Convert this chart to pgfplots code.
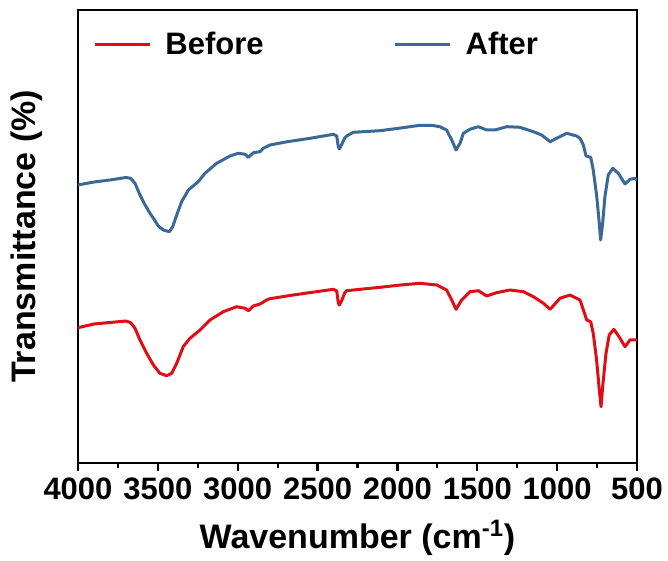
\documentclass[border=0pt]{standalone}
\usepackage{fontspec}
\setmainfont{Liberation Sans}
\usepackage{pgfplots}
\pgfplotsset{compat=1.18}
\definecolor{cred}{RGB}{224,14,20}
\definecolor{cblue}{RGB}{58,104,151}
\pgfplotstableread{
w y
4000 -185
3900 -182
3800 -180
3700 -177.5
3670 -178.3
3643 -183.3
3612 -195
3580 -205
3549 -213.3
3528 -218.3
3497 -226
3466 -230
3428 -231.7
3407 -226.7
3382 -215
3351 -201.7
3309 -190
3247 -181.7
3205 -173.3
3132 -163.3
3048 -156
2996 -153.3
2954 -154.3
2933 -157.3
2902 -152.7
2860 -151.7
2840 -148.3
2798 -145
2700 -142
2547 -138.3
2401 -134.3
2380 -136
2370 -147
2364 -149
2350 -145
2330 -138
2318 -136
2276 -132.3
2109 -130.7
1980 -128
1859 -125.3
1780 -125.5
1734 -126.7
1692 -130
1660 -140
1633 -150
1608 -143.3
1587 -133.3
1546 -129.3
1493 -126.7
1441 -130
1389 -130
1316 -126.7
1232 -127.3
1149 -131.7
1097 -135
1044 -141.7
1003 -138.3
940 -133.3
878 -136
857 -138.3
836 -145
819 -156
790 -157.3
774 -170
753 -195
736 -223.3
728 -240
715 -223.3
701 -196.7
680 -175
652 -168.3
617 -173.3
575 -184
544 -179.3
512 -178.3
500 -180
}\after
\pgfplotstableread{
w y
4000 -327.7
3900 -324
3800 -322.5
3700 -321
3670 -322.7
3643 -328.3
3612 -340
3570 -353.3
3528 -365
3487 -373.3
3445 -375.7
3413 -373.3
3382 -363.3
3341 -346.7
3299 -338.3
3236 -330
3174 -320
3090 -311.7
3007 -306.7
2954 -308.3
2933 -310.7
2902 -306
2860 -304
2819 -300
2798 -298.7
2652 -295
2401 -289.3
2380 -291
2370 -303
2364 -305
2350 -301
2330 -293
2318 -290.7
2109 -287.3
1980 -285
1859 -283.3
1754 -285
1692 -290
1660 -300
1633 -309.3
1598 -300
1546 -291.7
1493 -290.7
1441 -296
1379 -292.7
1295 -290
1211 -291.7
1149 -296.7
1086 -303.3
1044 -309.3
982 -298.3
919 -295
857 -300
825 -315
815 -320
790 -321.7
774 -333.3
753 -360
736 -390
725 -406.7
715 -386.7
694 -353.3
674 -335
645 -329.3
612 -336.7
575 -346.7
544 -340
502 -340
500 -340
}\before
\begin{document}
\begin{tikzpicture}
\useasboundingbox (-39pt,-49pt) rectangle (295pt,231.5pt);
\begin{axis}[
  at={(0,0)}, anchor=south west,
  scale only axis,
  width=279.5pt, height=226.5pt,
  x dir=reverse,
  xmin=500, xmax=4000,
  ymin=-463, ymax=-10,
  xtick={500,1000,...,4000},
  minor x tick num=1,
  xtick pos=bottom,
  tick align=outside,
  major tick length=4pt,
  minor tick length=2.5pt,
  ytick=\empty,
  axis line style={line width=1.2pt},
  every tick/.style={black, line width=1.1pt},
  scaled x ticks=false,
  xticklabel style={/pgf/number format/.cd, 1000 sep={}, assume math mode=true},
  ticklabel style={font=\fontsize{15.5}{17}\selectfont\bfseries},
  xlabel={Wavenumber (cm\textsuperscript{-1})},
  ylabel={Transmittance (\%)},
  label style={font=\fontsize{17}{19}\selectfont\bfseries},
  xlabel style={yshift=-3pt},
  ylabel style={yshift=10pt},
  legend columns=2,
  legend style={draw=none, fill=none, at={(0.027,0.923)}, anchor=west,
    font=\fontsize{15.5}{17}\selectfont\bfseries, inner sep=0pt,
    /tikz/every odd column/.append style={column sep=5pt},
    /tikz/every even column/.append style={column sep=63pt}},
  legend image code/.code={\draw[#1] (0pt,0pt) -- (27.5pt,0pt);},
]
\addplot[cred, line width=1.5pt, line join=round] table[x=w,y=y] {\before};
\addlegendentry{Before}
\addplot[cblue, line width=1.5pt, line join=round] table[x=w,y=y] {\after};
\addlegendentry{After}
\end{axis}
\end{tikzpicture}
\end{document}
